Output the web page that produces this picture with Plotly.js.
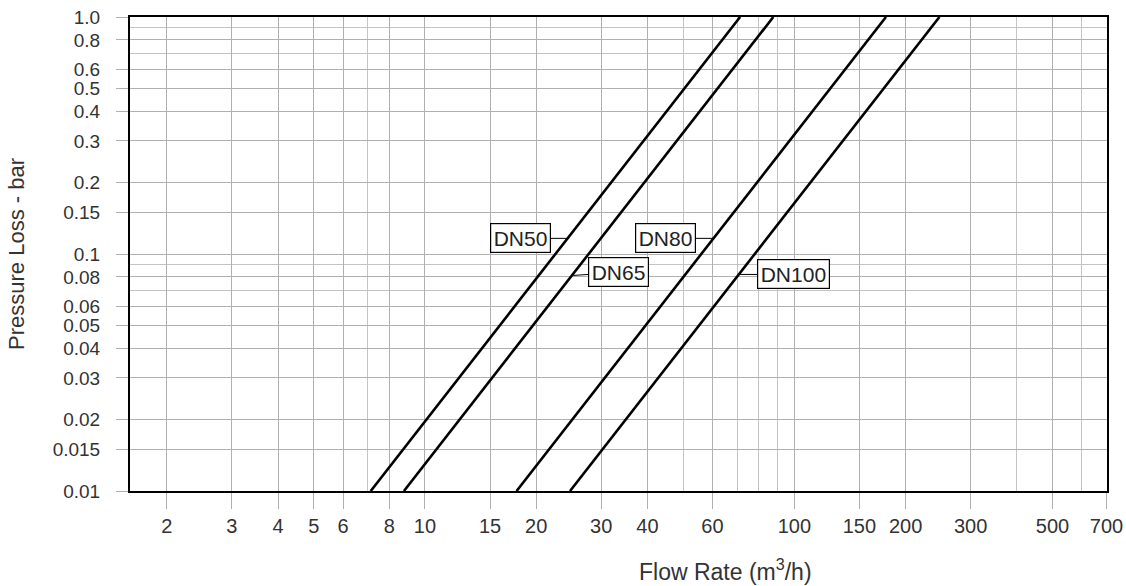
<!DOCTYPE html>
<html>
<head>
<meta charset="utf-8">
<script src="https://cdn.plot.ly/plotly-3.0.1.min.js"></script>
<style>html,body{margin:0;padding:0;background:#fff;}#chart{width:1126px;height:586px;}</style>
</head>
<body>
<div id="chart"></div>
<script>
// ---- data ----
const seriesNames = ['DN50', 'DN65', 'DN80', 'DN100'];
const flowAtMinLoss = [7.13, 8.77, 17.7, 24.7];   // m3/h at 0.01 bar
const flowAtMaxLoss = [71.3, 87.7, 177, 247];     // m3/h at 1.0 bar
const lossEnds = [0.01, 1.0];                     // bar

const xTickVals = [2, 3, 4, 5, 6, 8, 10, 15, 20, 30, 40, 60, 100, 150, 200, 300, 500, 700];
const xTickText = ['2', '3', '4', '5', '6', '8', '10', '15', '20', '30', '40', '60', '100', '150', '200', '300', '500', '700'];
const xMinorVals = [7, 50, 70, 80, 90, 400, 600];

const yTickVals = [0.01, 0.015, 0.02, 0.03, 0.04, 0.05, 0.06, 0.08, 0.1, 0.15, 0.2, 0.3, 0.4, 0.5, 0.6, 0.8, 1.0];
const yTickText = ['0.01', '0.015', '0.02', '0.03', '0.04', '0.05', '0.06', '0.08', '0.1', '0.15', '0.2', '0.3', '0.4', '0.5', '0.6', '0.8', '1.0'];
const yMinorVals = [0.07, 0.09, 0.7, 0.9];

const labelFlow = [24.3, 25.2, 60.4, 70.5];
const labelLoss = [0.1164, 0.0812, 0.1164, 0.082];

// ---- styles ----
const labelOffsetX = [-47, 45, -48, 55];
const labelOffsetY = [0, -3, 0, 0];
const FONT = 'Liberation Sans, Arial, sans-serif';
const TXT = '#333333';

const traces = seriesNames.map((n, i) => ({
  type: 'scatter', mode: 'lines', name: n,
  x: [flowAtMinLoss[i], flowAtMaxLoss[i]],
  y: lossEnds,
  line: {color: '#000', width: 2.6},
  hoverinfo: 'name+x+y'
}));

const annotations = seriesNames.map((n, i) => ({
  x: Math.log10(labelFlow[i]), y: Math.log10(labelLoss[i]), xref: 'x', yref: 'y',
  text: n, showarrow: true, arrowhead: 0, arrowwidth: 1, arrowcolor: '#000',
  ax: labelOffsetX[i], ay: labelOffsetY[i], standoff: 0,
  bordercolor: '#000', borderwidth: 1.2, borderpad: 2.5, bgcolor: '#fff',
  font: {family: FONT, size: 21, color: '#222'}
}));
annotations.push({
  xref: 'paper', yref: 'paper', x: 0.61, y: -0.167, xanchor: 'center', yanchor: 'middle',
  text: 'Flow Rate (m<sup>3</sup>/h)', showarrow: false,
  font: {family: FONT, size: 23, color: TXT}
});

const layout = {
  width: 1126, height: 586,
  margin: {l: 130, r: 19, t: 17, b: 95},
  paper_bgcolor: '#fff', plot_bgcolor: '#fff',
  showlegend: false,
  font: {family: FONT, size: 20, color: TXT},
  xaxis: {
    type: 'log', range: [Math.log10(1.59), Math.log10(702)],
    tickmode: 'array', tickvals: xTickVals, ticktext: xTickText,
    ticks: 'outside', ticklen: 16, tickwidth: 1, tickcolor: '#b0b0b0',
    showgrid: true, gridcolor: '#b0b0b0', gridwidth: 1,
    minor: {tickmode: 'array', tickvals: xMinorVals, showgrid: true, gridcolor: '#c4c4c4', gridwidth: 1, ticks: ''},
    showline: true, linecolor: '#000', linewidth: 2, mirror: true,
    zeroline: false,
    tickfont: {family: FONT, size: 20, color: TXT}
  },
  yaxis: {
    type: 'log', range: [-2, 0],
    tickmode: 'array', tickvals: yTickVals, ticktext: yTickText,
    ticks: 'outside', ticklen: 12, tickwidth: 1, tickcolor: '#b0b0b0',
    ticklabelstandoff: 12,
    showgrid: true, gridcolor: '#b0b0b0', gridwidth: 1,
    minor: {tickmode: 'array', tickvals: yMinorVals, showgrid: true, gridcolor: '#c4c4c4', gridwidth: 1, ticks: ''},
    showline: true, linecolor: '#000', linewidth: 2, mirror: true,
    zeroline: false,
    tickfont: {family: FONT, size: 19, color: TXT},
    title: {text: 'Pressure Loss - bar', font: {family: FONT, size: 22, color: TXT}, standoff: 22}
  },
  annotations: annotations
};

Plotly.newPlot('chart', traces, layout, {displayModeBar: false, staticPlot: true});
</script>
</body>
</html>
